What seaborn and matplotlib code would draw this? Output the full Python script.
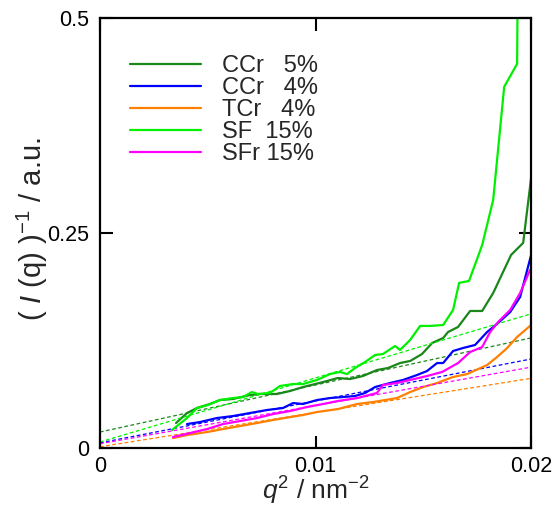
import matplotlib
matplotlib.use("Agg")
import matplotlib.pyplot as plt
import numpy as np
import pandas as pd
import seaborn as sns

# measured curves, q^2 in units of 1e-3 nm^-2
ccr5_q2 = [3.53, 4.04, 4.50, 5.10, 5.57, 6.17, 6.96, 7.43, 8.21, 8.82, 9.42, 10.35, 11.04, 11.60,
           12.20, 12.85, 13.36, 13.92, 14.39, 14.94, 15.41, 15.92, 16.15, 16.61, 17.17, 17.73,
           18.24, 18.70, 19.07, 19.63, 20.0]
ccr5_inv = [0.0291, 0.0407, 0.0465, 0.0512, 0.0558, 0.0570, 0.0616, 0.0628, 0.0628, 0.0663, 0.0709,
            0.0767, 0.0814, 0.0802, 0.0837, 0.0907, 0.0930, 0.0988, 0.1012, 0.1093, 0.1221, 0.1279,
            0.1349, 0.1407, 0.1593, 0.1593, 0.1802, 0.2047, 0.2244, 0.2384, 0.3140]

ccr4_q2 = [4.04, 4.64, 5.43, 6.17, 6.96, 7.75, 8.49, 8.96, 9.42, 10.07, 10.67, 11.28, 11.83, 12.30,
           12.76, 13.46, 14.06, 14.71, 15.17, 15.64, 15.92, 16.38, 16.85, 17.40, 17.96, 18.42,
           19.03, 19.49, 20.0]
ccr4_inv = [0.0279, 0.0302, 0.0349, 0.0372, 0.0407, 0.0442, 0.0465, 0.0523, 0.0512, 0.0558, 0.0581,
            0.0593, 0.0605, 0.0640, 0.0709, 0.0756, 0.0791, 0.0849, 0.0895, 0.0988, 0.0988, 0.1128,
            0.1163, 0.1198, 0.1349, 0.1442, 0.1581, 0.1756, 0.2244]

tcr4_q2 = [3.39, 4.04, 4.97, 5.71, 6.50, 7.29, 8.03, 8.82, 9.42, 10.07, 11.04, 11.93, 12.67, 13.78,
           14.39, 14.99, 15.64, 16.38, 17.03, 17.96, 18.42, 18.89, 19.35, 20.0]
tcr4_inv = [0.0116, 0.0151, 0.0186, 0.0221, 0.0256, 0.0291, 0.0326, 0.0360, 0.0384, 0.0419, 0.0453,
            0.0512, 0.0535, 0.0581, 0.0651, 0.0709, 0.0756, 0.0826, 0.0860, 0.0965, 0.1058, 0.1163,
            0.1291, 0.1430]

sf15_q2 = [3.34, 4.04, 4.50, 5.01, 5.57, 6.17, 6.64, 7.05, 7.33, 7.89, 8.35, 8.96, 9.42, 10.07,
           10.67, 11.14, 11.46, 11.83, 12.30, 12.76, 13.13, 13.69, 13.92, 14.39, 14.85, 15.31,
           15.92, 16.38, 16.66, 17.12, 17.73, 18.24, 18.75, 19.35, 19.40]
sf15_inv = [0.0209, 0.0349, 0.0465, 0.0500, 0.0558, 0.0581, 0.0593, 0.0651, 0.0628, 0.0640, 0.0721,
            0.0744, 0.0744, 0.0791, 0.0860, 0.0884, 0.0860, 0.0930, 0.1000, 0.1081, 0.1093, 0.1186,
            0.1140, 0.1256, 0.1419, 0.1419, 0.1430, 0.1605, 0.1919, 0.1942, 0.2360, 0.2884, 0.4198,
            0.4465, 0.6200]

sfr15_q2 = [3.39, 4.18, 4.97, 5.71, 6.50, 7.29, 8.03, 8.82, 9.61, 10.35, 11.04, 11.93, 12.85, 13.13,
            13.78, 14.39, 15.17, 15.87, 16.61, 17.17, 17.73, 18.10, 18.47, 19.03, 19.49, 19.95]
sfr15_inv = [0.0128, 0.0174, 0.0221, 0.0279, 0.0314, 0.0349, 0.0395, 0.0430, 0.0477, 0.0512, 0.0547,
             0.0581, 0.0640, 0.0733, 0.0756, 0.0791, 0.0837, 0.0884, 0.0988, 0.1116, 0.1174, 0.1349,
             0.1465, 0.1605, 0.1802, 0.2070]

# linear fits: value at q^2 = 0 and at q^2 = 0.02
fit_q2 = [0.0, 0.02]
fit_ccr5 = [0.0186, 0.128]
fit_ccr4 = [0.0060, 0.1035]
fit_tcr4 = [0.0015, 0.081]
fit_sf15 = [0.0070, 0.156]
fit_sfr15 = [0.0050, 0.094]

labels = ["CCr   5%", "CCr   4%", "TCr   4%", "SF  15%", "SFr 15%"]
colors = ["#1a871a", "#0000ff", "#ff8000", "#00f000", "#ff00ff"]

x_ticks = [0, 0.01, 0.02]
x_ticklabels = ["0", "0.01", "0.02"]
y_ticks = [0, 0.25, 0.5]
y_ticklabels = ["0", "0.25", "0.5"]

sns.set_theme(style="ticks")
plt.rcParams["font.family"] = ["Liberation Sans", "DejaVu Sans"]
plt.rcParams["mathtext.fontset"] = "custom"
plt.rcParams["mathtext.rm"] = "Liberation Sans"
plt.rcParams["mathtext.it"] = "Liberation Sans:italic"

series = [
    (ccr5_q2, ccr5_inv, fit_ccr5),
    (ccr4_q2, ccr4_inv, fit_ccr4),
    (tcr4_q2, tcr4_inv, fit_tcr4),
    (sf15_q2, sf15_inv, fit_sf15),
    (sfr15_q2, sfr15_inv, fit_sfr15),
]

fig = plt.figure(figsize=(5.55, 5.08), dpi=100)
ax = fig.add_axes([0.180, 0.118, 0.777, 0.847])

for (q2, inv, fit), label, color in zip(series, labels, colors):
    df = pd.DataFrame({"q2": np.array(q2) * 1e-3, "inv": inv})
    sns.lineplot(data=df, x="q2", y="inv", ax=ax, color=color, lw=1.6, sort=False,
                 estimator=None, label=label)
    fit_df = pd.DataFrame({"q2": fit_q2, "inv": fit})
    sns.lineplot(data=fit_df, x="q2", y="inv", ax=ax, color=color, lw=0.9, sort=False,
                 estimator=None, dashes=False, linestyle=(0, (3, 2)), legend=False)

ax.set_xlim(0, 0.02)
ax.set_ylim(0, 0.5)
ax.set_xticks(x_ticks)
ax.set_xticklabels(x_ticklabels)
ax.set_yticks(y_ticks)
ax.set_yticklabels(y_ticklabels)
ax.tick_params(direction="in", length=9, width=1.5, top=True, right=True,
               labelsize=15.5, pad=8, colors="black")
ax.tick_params(axis="x", pad=6)
for sp in ax.spines.values():
    sp.set_linewidth(1.6)
    sp.set_color("black")
    sp.set_visible(True)

ax.set_xlabel("$q^2$ / nm$^{-2}$", fontsize=19, labelpad=-2)
ax.set_ylabel("( $I$ (q) )$^{-1}$ / a.u.", fontsize=21)
ax.yaxis.set_label_coords(-0.115, 0.51)

ax.legend(loc="upper left", bbox_to_anchor=(0.043, 0.94), frameon=False, fontsize=17,
          handlelength=3.0, handletextpad=0.9, labelspacing=0.0, borderpad=0)

fig.savefig("out.png", dpi=100)
